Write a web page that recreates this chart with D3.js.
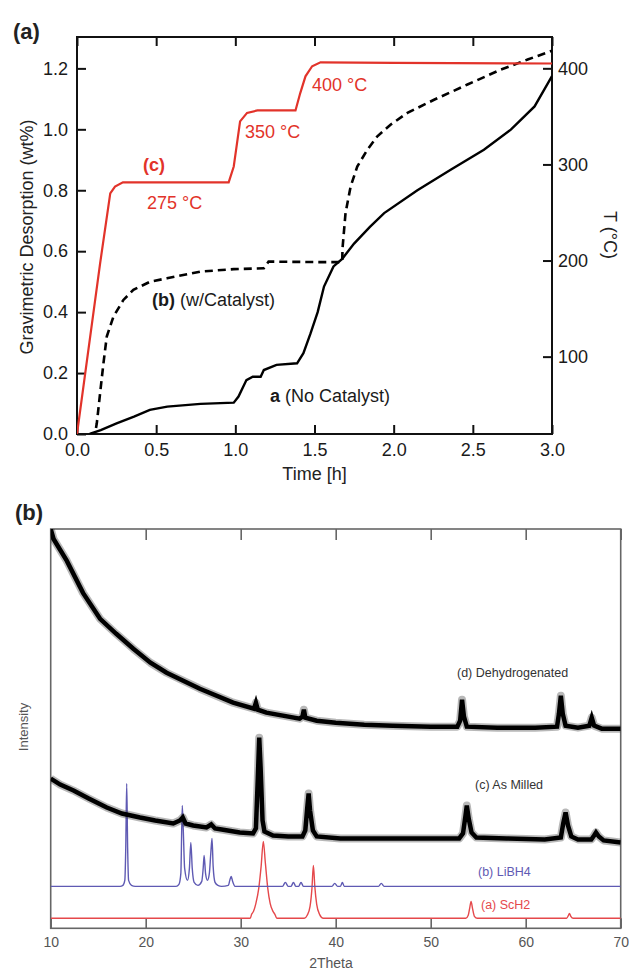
<!DOCTYPE html>
<html>
<head>
<meta charset="utf-8">
<script src="https://cdn.jsdelivr.net/npm/d3@7"></script>
<style>
  body { margin: 0; background: #fff; }
  svg { display: block; font-family: "Liberation Sans", Arial, sans-serif; }
</style>
</head>
<body>
<svg id="chart" width="629" height="971"></svg>
<script>
// ---- panel (a) data: time [h] vs wt%
var timeTicks = [0, 0.5, 1.0, 1.5, 2.0, 2.5, 3.0];
var wtTicks = [0, 0.2, 0.4, 0.6, 0.8, 1.0, 1.2];
var tempTicks = [100, 200, 300, 400];

var curveC = [[0,0],[0.146,0.56],[0.21,0.79],[0.24,0.812],[0.29,0.826],[0.6,0.826],[0.958,0.826],
  [0.99,0.878],[1.03,1.026],[1.074,1.054],[1.14,1.062],[1.38,1.062],[1.41,1.119],[1.443,1.174],
  [1.485,1.207],[1.538,1.22],[2.0,1.218],[3.0,1.216]];

var curveB = [[0.12,0.02],[0.125,0.035],[0.146,0.134],[0.167,0.232],[0.188,0.32],[0.23,0.385],
  [0.293,0.44],[0.356,0.473],[0.462,0.50],[0.568,0.511],[0.778,0.533],[0.99,0.541],[1.18,0.544],
  [1.21,0.566],[1.54,0.564],[1.675,0.564],[1.677,0.61],[1.696,0.725],[1.728,0.812],[1.77,0.878],
  [1.834,0.933],[1.897,0.977],[1.98,1.015],[2.087,1.054],[2.255,1.097],[2.466,1.147],
  [2.677,1.196],[2.846,1.229],[3.0,1.258]];

var curveA = [[0.08,0],[0.15,0.013],[0.25,0.035],[0.36,0.057],[0.46,0.079],[0.57,0.09],[0.78,0.099],
  [0.99,0.103],[1.02,0.123],[1.07,0.177],[1.11,0.188],[1.16,0.188],[1.18,0.21],[1.26,0.227],
  [1.39,0.232],[1.43,0.265],[1.475,0.33],[1.52,0.40],[1.56,0.484],[1.62,0.55],[1.675,0.575],
  [1.75,0.625],[1.85,0.68],[1.94,0.725],[2.15,0.80],[2.36,0.867],[2.57,0.933],[2.74,0.999],
  [2.89,1.075],[3.0,1.175]];

// ---- panel (b) data: 2theta vs intensity (arb.)
var thetaTicks = [10, 20, 30, 40, 50, 60, 70];

var xrdDehyd = [[10,400],[10.3,390],[11.7,368],[13.4,336],[15.2,310],[16.9,295],[18.7,280],
  [20.5,266],[22.2,256],[25.7,240],[29.2,226],[31.4,220],[31.6,226],[31.8,219],[32.7,216],
  [36.2,210],[36.5,212],[36.65,219],[36.8,211],[38,208],[40,206],[43,204],[46,203],[50,202],
  [52.8,202],[53.1,208],[53.3,229],[53.5,212],[53.8,202],[57,201],[61,201],[63.3,202],
  [63.5,215],[63.7,233],[63.9,215],[64.2,203],[65.5,201],[66.7,203],[66.95,211],[67.2,203],
  [68,200],[70,200]];

var xrdMilled = [[10,150],[11,144],[12.4,138],[14,130],[15.9,121],[17.5,115],[19.4,111],[21,108],
  [22.9,105],[23.6,108],[23.9,111],[24.2,105],[25,103],[26.4,101],[26.9,104],[27.3,100],[28,99],
  [29.9,96],[31.3,95],[31.6,100],[31.8,150],[31.95,191],[32.1,160],[32.3,108],[32.5,97],[33.4,93],
  [35,92],[36.5,92],[36.8,98],[37.0,120],[37.15,135],[37.3,118],[37.6,98],[38,92],[40.5,90],
  [45,90],[50.2,90],[53,90],[53.4,95],[53.65,112],[53.8,123],[54.0,110],[54.3,96],[54.8,91],
  [58,90],[62,89],[63.7,91],[63.95,105],[64.2,116],[64.45,103],[64.8,92],[65.5,89],[66.9,89],
  [67.2,93],[67.4,96],[67.7,92],[68.2,88],[70,86]];

var xrdLiBH4 = [[10,42],[17.3,42],[17.6,43],[17.8,48],[17.9,80],[18.0,145],[18.1,80],[18.2,48],
  [18.5,43],[18.9,42],[23.2,42],[23.5,44],[23.7,55],[23.85,123],[23.95,100],[24.1,60],[24.4,48],
  [24.6,60],[24.75,86],[24.9,60],[25.1,46],[25.5,43],[25.9,47],[26.05,60],[26.15,73],[26.3,55],
  [26.5,48],[26.7,55],[26.85,75],[26.98,90],[27.1,62],[27.3,46],[27.6,43],[28,42],[28.7,43],
  [28.85,48],[29.0,52],[29.15,47],[29.4,42],[34.4,42],[34.7,46],[35.0,42],[35.3,42],[35.55,46],
  [35.8,42],[36.1,42],[36.35,46],[36.6,42],[39.6,42],[39.9,45],[40.2,42],[40.5,42],[40.7,46],
  [40.9,42],[44.5,42],[44.8,45],[45.1,42],[70,42]];

var xrdScH2 = [[10,10],[31.0,10],[31.15,14],[31.35,17],[31.6,25],[31.9,40],[32.15,62],[32.38,87],
  [32.6,65],[32.85,40],[33.1,25],[33.4,17],[33.6,14],[33.8,10],[36.7,10],[37.0,13],[37.3,22],
  [37.5,40],[37.65,63],[37.8,42],[38.0,24],[38.3,14],[38.7,10],[53.7,10],[53.95,13],[54.1,20],
  [54.25,27],[54.4,20],[54.6,12],[54.9,10],[64.3,10],[64.5,13],[64.6,15],[64.75,12],[65.0,10],
  [70,10]];

var red = '#e2332a';
var svg = d3.select('#chart');

function drawDesorption() {
  var box = { l: 77, r: 552, t: 37, b: 434 };
  var x = d3.scaleLinear().domain([0, 3]).range([box.l, box.r]);
  var y = d3.scaleLinear().domain([0, 1.303]).range([box.b, box.t]);
  var yT = d3.scaleLinear().domain([19.5, 432.6]).range([box.b, box.t]);

  var g = svg.append('g');
  var fmt = d3.format('.1f');

  g.append('clipPath').attr('id', 'clipA')
    .append('rect').attr('x', box.l).attr('y', box.t)
    .attr('width', box.r - box.l).attr('height', box.b - box.t);

  g.append('g').attr('transform', 'translate(0,' + box.b + ')')
    .call(d3.axisBottom(x).tickValues(timeTicks).tickFormat(fmt).tickSizeInner(-9).tickSizeOuter(0).tickPadding(9));
  g.append('g').attr('transform', 'translate(0,' + box.t + ')')
    .call(d3.axisTop(x).tickValues(timeTicks).tickFormat('').tickSizeInner(-9).tickSizeOuter(0));
  g.append('g').attr('transform', 'translate(' + box.l + ',0)')
    .call(d3.axisLeft(y).tickValues(wtTicks).tickFormat(fmt).tickSizeInner(-9).tickSizeOuter(0).tickPadding(9));
  g.append('g').attr('transform', 'translate(' + box.r + ',0)')
    .call(d3.axisRight(yT).tickValues(tempTicks).tickSizeInner(-9).tickSizeOuter(0).tickPadding(6));

  g.selectAll('.domain').remove();
  g.selectAll('.tick line').attr('stroke', '#111').attr('stroke-width', 2);
  g.selectAll('.tick text').attr('font-size', 18).attr('fill', '#1a1a1a')
    .attr('font-family', '"Liberation Sans", Arial, sans-serif');

  g.append('rect').attr('x', box.l).attr('y', box.t)
    .attr('width', box.r - box.l).attr('height', box.b - box.t)
    .attr('fill', 'none').attr('stroke', '#111').attr('stroke-width', 2);

  var line = d3.line().x(d => x(d[0])).y(d => y(d[1]));
  var curves = g.append('g').attr('clip-path', 'url(#clipA)');

  curves.append('path').datum(curveA).attr('d', line)
    .attr('fill', 'none').attr('stroke', '#000').attr('stroke-width', 2.4);
  curves.append('path').datum(curveB).attr('d', line)
    .attr('fill', 'none').attr('stroke', '#000').attr('stroke-width', 2.6)
    .attr('stroke-dasharray', '8,5');
  curves.append('path').datum(curveC).attr('d', line)
    .attr('fill', 'none').attr('stroke', red).attr('stroke-width', 2.2);

  // annotations
  g.append('text').attr('x', 13).attr('y', 39).attr('font-size', 22).attr('font-weight', 'bold')
    .attr('fill', '#222').text('(a)');

  g.append('text').attr('transform', 'translate(33,237) rotate(-90)')
    .attr('text-anchor', 'middle').attr('font-size', 18).attr('fill', '#222')
    .text('Gravimetric Desorption (wt%)');
  g.append('text').attr('transform', 'translate(604,235) rotate(90)')
    .attr('text-anchor', 'middle').attr('font-size', 18).attr('fill', '#222')
    .text('T (°C)');
  g.append('text').attr('x', x(1.5)).attr('y', 480)
    .attr('text-anchor', 'middle').attr('font-size', 18).attr('fill', '#222')
    .text('Time [h]');

  var redLabels = [
    { t: '(c)', x: 143, y: 171, bold: true },
    { t: '275 °C', x: 147, y: 209 },
    { t: '350 °C', x: 245, y: 138 },
    { t: '400 °C', x: 312, y: 91 }
  ];
  g.selectAll('.redlab').data(redLabels).enter().append('text')
    .attr('class', 'redlab')
    .attr('x', d => d.x).attr('y', d => d.y)
    .attr('font-size', 18).attr('fill', red)
    .attr('font-weight', d => d.bold ? 'bold' : 'normal')
    .text(d => d.t);

  var tb = g.append('text').attr('x', 152).attr('y', 306).attr('font-size', 18).attr('fill', '#1a1a1a');
  tb.append('tspan').attr('font-weight', 'bold').text('(b)');
  tb.append('tspan').text(' (w/Catalyst)');

  var ta = g.append('text').attr('x', 270).attr('y', 402).attr('font-size', 18).attr('fill', '#1a1a1a');
  ta.append('tspan').attr('font-weight', 'bold').text('a');
  ta.append('tspan').text(' (No Catalyst)');
}

function drawXrd() {
  var box = { l: 50.7, r: 620.7, t: 529, b: 928.3 };
  var x = d3.scaleLinear().domain([10, 70]).range([box.l, box.r]);
  var y = d3.scaleLinear().domain([0, 400]).range([box.b, box.t]);
  var grey = '#666';

  var g = svg.append('g');
  g.append('clipPath').attr('id', 'clipB')
    .append('rect').attr('x', box.l).attr('y', box.t)
    .attr('width', box.r - box.l).attr('height', box.b - box.t);

  g.append('g').attr('transform', 'translate(0,' + box.b + ')')
    .call(d3.axisBottom(x).tickValues(thetaTicks).tickFormat(d3.format('d'))
      .tickSizeInner(-10).tickSizeOuter(0).tickPadding(9));
  g.append('g').attr('transform', 'translate(0,' + box.t + ')')
    .call(d3.axisTop(x).tickValues(thetaTicks).tickFormat('')
      .tickSizeInner(-11).tickSizeOuter(0));
  g.selectAll('.domain').remove();
  g.selectAll('.tick line').attr('stroke', grey).attr('stroke-width', 1.6);
  g.selectAll('.tick text').attr('font-size', 14).attr('fill', '#555')
    .attr('font-family', '"Liberation Sans", Arial, sans-serif');

  g.append('rect').attr('x', box.l).attr('y', box.t)
    .attr('width', box.r - box.l).attr('height', box.b - box.t)
    .attr('fill', 'none').attr('stroke', grey).attr('stroke-width', 1.6);

  var smooth = d3.line().x(d => x(d[0])).y(d => y(d[1])).curve(d3.curveMonotoneX);
  var sharp = d3.line().x(d => x(d[0])).y(d => y(d[1]));
  var curves = g.append('g').attr('clip-path', 'url(#clipB)');

  curves.append('path').datum(xrdScH2).attr('d', smooth)
    .attr('fill', 'none').attr('stroke', '#e5484b').attr('stroke-width', 1.4);
  curves.append('path').datum(xrdLiBH4).attr('d', smooth)
    .attr('fill', 'none').attr('stroke', '#5f5ab3').attr('stroke-width', 1.4);

  [xrdMilled, xrdDehyd].forEach(function(series) {
    // noisy scans: faint halo plus dark core
    curves.append('path').datum(series).attr('d', sharp)
      .attr('fill', 'none').attr('stroke', '#333').attr('stroke-opacity', 0.35)
      .attr('stroke-width', 8).attr('stroke-linejoin', 'round');
    curves.append('path').datum(series).attr('d', sharp)
      .attr('fill', 'none').attr('stroke', '#000')
      .attr('stroke-width', 4.5).attr('stroke-linejoin', 'miter');
  });

  g.append('text').attr('x', 15).attr('y', 520).attr('font-size', 22).attr('font-weight', 'bold')
    .attr('fill', '#222').text('(b)');
  g.append('text').attr('transform', 'translate(28,727) rotate(-90)')
    .attr('text-anchor', 'middle').attr('font-size', 13).attr('fill', '#555')
    .text('Intensity');
  g.append('text').attr('x', 331).attr('y', 968)
    .attr('text-anchor', 'middle').attr('font-size', 14).attr('fill', '#555')
    .text('2Theta');

  var labels = [
    { t: '(d) Dehydrogenated', x: 457, y: 677, c: '#333' },
    { t: '(c) As Milled', x: 475, y: 789, c: '#333' },
    { t: '(b) LiBH4', x: 478, y: 876, c: '#5f5ab3' },
    { t: '(a) ScH2', x: 481, y: 909, c: '#e5484b' }
  ];
  g.selectAll('.xlab').data(labels).enter().append('text')
    .attr('class', 'xlab')
    .attr('x', d => d.x).attr('y', d => d.y)
    .attr('font-size', 12.5).attr('fill', d => d.c)
    .text(d => d.t);
}

drawDesorption();
drawXrd();
</script>
</body>
</html>
